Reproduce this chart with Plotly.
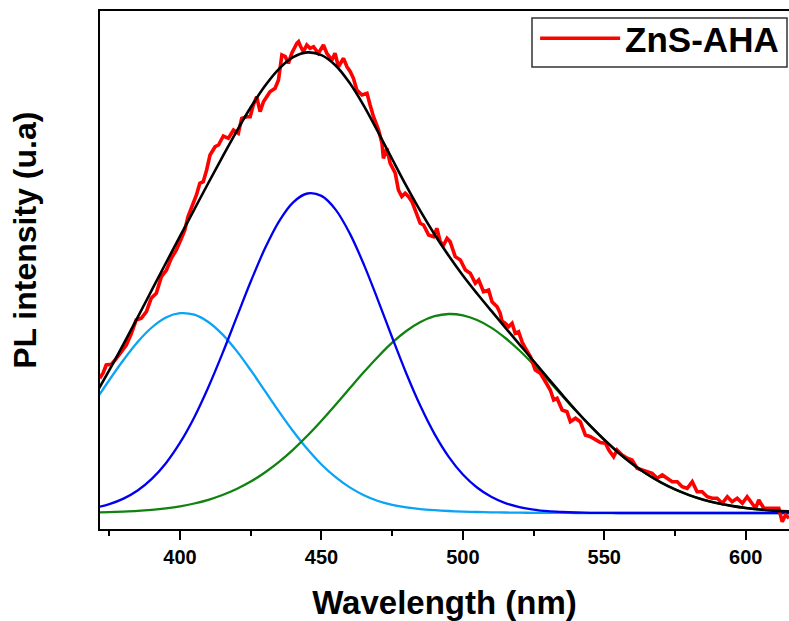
import plotly.graph_objects as go

# ---------------- data ----------------
# Measured PL spectrum of ZnS-AHA (wavelength in nm, intensity in a.u.)
red_wl = [371.6, 372.8, 373.9, 375.7, 377.5, 379.2, 381.0, 382.8, 384.5, 386.3,
          388.1, 389.8, 391.6, 393.4, 395.2, 396.9, 398.7, 400.5, 401.7, 402.8,
          404.6, 405.8, 407.0, 408.2, 409.4, 410.6, 412.4, 413.6, 415.3, 417.1,
          418.9, 420.6, 421.8, 423.6, 424.8, 425.9, 427.1, 428.3, 429.5, 430.7,
          431.8, 433.6, 434.8, 436.0, 437.2, 438.3, 439.5, 441.3, 441.9, 442.5,
          443.6, 444.8, 446.0, 447.2, 448.9, 450.7, 451.9, 453.7, 454.8, 456.0,
          457.8, 459.0, 460.2, 461.3, 462.5, 464.3, 466.1, 467.2, 468.4, 470.2,
          471.4, 471.9, 473.1, 474.3, 476.1, 477.2, 478.4, 479.6, 480.8, 482.0,
          483.2, 484.9, 486.1, 487.9, 489.6, 490.8, 492.0, 493.2, 494.4, 495.5,
          497.3, 499.1, 500.9, 502.6, 504.4, 505.6, 507.3, 509.1, 510.3, 512.1,
          513.2, 513.8, 515.0, 516.2, 517.4, 518.5, 519.7, 520.9, 522.1, 523.9,
          525.6, 527.4, 529.2, 530.9, 532.1, 533.3, 535.1, 536.8, 538.0, 539.8,
          541.5, 543.3, 545.1, 546.9, 548.6, 550.4, 551.6, 553.3, 554.5, 556.3,
          558.1, 559.8, 561.6, 563.4, 565.2, 566.9, 568.7, 570.5, 572.2, 574.0,
          575.8, 577.5, 579.3, 581.1, 582.8, 584.6, 586.4, 588.2, 589.9, 591.7,
          593.5, 595.2, 597.0, 598.8, 600.5, 602.3, 603.5, 604.6, 606.4, 608.2,
          610.0, 611.7, 612.9, 614.1, 615.3]
red_int = [134.7, 140.0, 148.0, 148.7, 154.7, 161.3, 168.0, 179.7, 193.0, 194.7,
           201.3, 214.7, 219.7, 236.3, 243.0, 254.7, 263.0, 274.7, 283.0, 296.3,
           308.0, 318.0, 329.7, 331.3, 343.0, 358.0, 366.3, 368.0, 377.0, 374.7,
           383.0, 379.7, 394.7, 396.3, 396.3, 408.0, 416.3, 401.3, 411.3, 416.3,
           421.3, 424.7, 433.0, 458.0, 456.3, 449.7, 459.7, 469.7, 471.3, 467.2,
           461.3, 468.0, 464.7, 466.3, 459.7, 468.0, 459.7, 453.0, 459.7, 446.3,
           454.7, 446.3, 441.3, 434.7, 423.0, 418.0, 419.7, 408.0, 396.3, 383.0,
           369.7, 354.7, 364.7, 349.7, 339.7, 323.0, 316.5, 319.7, 316.3, 311.3,
           303.0, 289.7, 288.0, 278.0, 276.3, 284.7, 271.3, 268.0, 274.7, 271.3,
           256.3, 253.0, 243.0, 239.7, 229.7, 233.0, 221.3, 223.0, 211.3, 206.3,
           199.7, 192.0, 189.7, 186.3, 189.7, 179.7, 181.3, 171.3, 164.7, 156.3,
           143.0, 139.7, 131.3, 123.0, 113.0, 114.7, 103.0, 101.3, 91.3, 94.7,
           91.3, 78.0, 76.3, 73.0, 70.5, 69.7, 63.0, 56.3, 63.0, 58.0,
           54.7, 53.0, 44.7, 43.0, 41.3, 39.7, 34.7, 38.0, 34.7, 31.3,
           31.3, 26.3, 24.7, 31.3, 21.3, 21.3, 16.3, 14.7, 14.7, 9.7,
           16.3, 11.3, 14.7, 9.7, 16.3, 9.7, 4.7, 13.0, 4.7, 4.7,
           4.7, 4.7, -8.7, -2.0, -5.3]

# Fitted components, read every 5 nm
fit_wl = [370, 375, 380, 385, 390, 395, 400, 405, 410, 415,
          420, 425, 430, 435, 440, 445, 450, 455, 460, 465,
          470, 475, 480, 485, 490, 495, 500, 505, 510, 515,
          520, 525, 530, 535, 540, 545, 550, 555, 560, 565,
          570, 575, 580, 585, 590, 595, 600, 605, 610, 615, 620]
peak1 = [112.0, 133.0, 153.0, 171.0, 185.5, 195.5, 199.8, 198.3, 191.0, 178.6,
         162.1, 142.8, 122.1, 101.4, 81.7, 63.9, 48.5, 35.8, 25.6, 17.8,
         12.0, 8.2, 5.6, 3.9, 2.8, 2.0, 1.4, 1.0, 0.7, 0.5,
         0.3, 0.2, 0.1, 0.1, 0.0, 0.0, 0.0, 0.0, 0.0, 0.0,
         0.0, 0.0, 0.0, 0.0, 0.0, 0.0, 0.0, 0.0, 0.0, 0.0, 0.0]
peak2 = [5.3, 8.9, 14.4, 22.5, 34.1, 49.8, 70.3, 95.6, 125.8, 159.6,
         195.6, 231.5, 264.4, 291.7, 310.7, 319.5, 317.1, 303.4, 279.6, 248.4,
         212.7, 175.5, 139.5, 106.9, 78.9, 56.2, 38.5, 25.5, 16.2, 9.9,
         5.9, 3.4, 1.8, 1.0, 0.5, 0.2, 0.1, 0.0, 0.0, 0.0,
         0.0, 0.0, 0.0, 0.0, 0.0, 0.0, 0.0, 0.0, 0.0, 0.0, 0.0]
peak3 = [0.6, 0.9, 1.4, 2.1, 3.2, 4.7, 6.7, 9.5, 13.2, 18.0,
         24.0, 31.4, 40.5, 51.1, 63.4, 77.2, 92.3, 108.3, 124.7, 140.9,
         156.3, 170.3, 182.0, 191.0, 196.8, 199.0, 197.6, 193.0, 185.4, 175.0,
         162.5, 148.4, 133.2, 117.5, 102.0, 87.1, 73.1, 60.3, 48.9, 39.0,
         30.6, 23.6, 17.9, 13.3, 9.8, 7.1, 5.0, 3.5, 2.4, 1.6, 1.1]
fit_sum = [117.9, 142.8, 168.8, 195.6, 222.8, 250.0, 276.8, 303.4, 330.0, 356.2,
           381.7, 405.7, 427.0, 444.2, 455.8, 460.6, 457.9, 447.5, 429.9, 407.1,
           381.0, 354.0, 327.1, 301.8, 278.5, 257.2, 237.5, 219.5, 202.3, 185.4,
           168.7, 152.0, 135.1, 118.6, 102.5, 87.3, 73.2, 60.3, 48.9, 39.0,
           30.6, 23.6, 17.9, 13.3, 9.8, 7.1, 5.0, 3.5, 2.4, 1.6, 1.1]

series_name = "ZnS-AHA"
x_title = "Wavelength (nm)"
y_title = "PL intensity (u.a)"
x_tickvals = [400, 450, 500, 550, 600]
x_minor_tickvals = [375, 425, 475, 525, 575]

FONT = "Arial, 'Liberation Sans', sans-serif"

fig = go.Figure()
fig.add_trace(go.Scatter(x=fit_wl, y=peak1, mode="lines", showlegend=False,
                         line=dict(color="#0AA3F5", width=2.3, shape="spline")))
fig.add_trace(go.Scatter(x=fit_wl, y=peak3, mode="lines", showlegend=False,
                         line=dict(color="#0F820F", width=2.3, shape="spline")))
fig.add_trace(go.Scatter(x=fit_wl, y=peak2, mode="lines", showlegend=False,
                         line=dict(color="#0000F0", width=2.3, shape="spline")))
fig.add_trace(go.Scatter(x=red_wl, y=red_int, mode="lines", name=series_name,
                         line=dict(color="#FF0000", width=3.6)))
fig.add_trace(go.Scatter(x=fit_wl, y=fit_sum, mode="lines", showlegend=False,
                         line=dict(color="#000000", width=2.6, shape="spline")))

fig.update_layout(
    width=789, height=621,
    margin=dict(l=100, r=0, t=11, b=92),
    paper_bgcolor="white", plot_bgcolor="white",
    font=dict(family=FONT, color="black"),
    showlegend=True,
    legend=dict(
        x=0.6315, y=1.004, xanchor="left", yanchor="top",
        bgcolor="rgba(0,0,0,0)", borderwidth=0,
        font=dict(family=FONT, size=35, color="black", weight="bold"),
        itemwidth=80, tracegroupgap=0,
    ),
    # legend frame
    shapes=[dict(type="rect", xref="paper", yref="paper",
                 x0=0.627, x1=0.9971, y0=0.8919, y1=0.9865,
                 line=dict(color="#333333", width=1.5),
                 fillcolor="white", layer="above")],
    xaxis=dict(
        range=[371.7, 615.3], showgrid=False, zeroline=False,
        showline=True, linecolor="black", linewidth=2, mirror=True,
        ticks="outside", ticklen=9, tickwidth=2, tickcolor="black",
        tickvals=x_tickvals,
        tickfont=dict(family=FONT, size=20, color="black", weight="bold"),
        minor=dict(ticks="outside", ticklen=5, tickwidth=2, tickcolor="black",
                   tickvals=x_minor_tickvals),
        title=dict(text=x_title, standoff=24,
                   font=dict(family=FONT, size=33, color="black", weight="bold")),
    ),
    yaxis=dict(
        range=[-16, 502], showgrid=False, zeroline=False,
        showline=True, linecolor="black", linewidth=2, mirror=False,
        ticks="", showticklabels=False,
    ),
    annotations=[dict(
        text=y_title, textangle=-90, showarrow=False,
        xref="paper", yref="paper", x=-0.109, y=0.558,
        xanchor="center", yanchor="middle",
        font=dict(family=FONT, size=32, color="black", weight="bold"),
    )],
)

fig.write_html("out.html",
               config={"displayModeBar": False},
               post_script="document.body.style.margin='0';"
                           "document.body.style.overflow='hidden';")
